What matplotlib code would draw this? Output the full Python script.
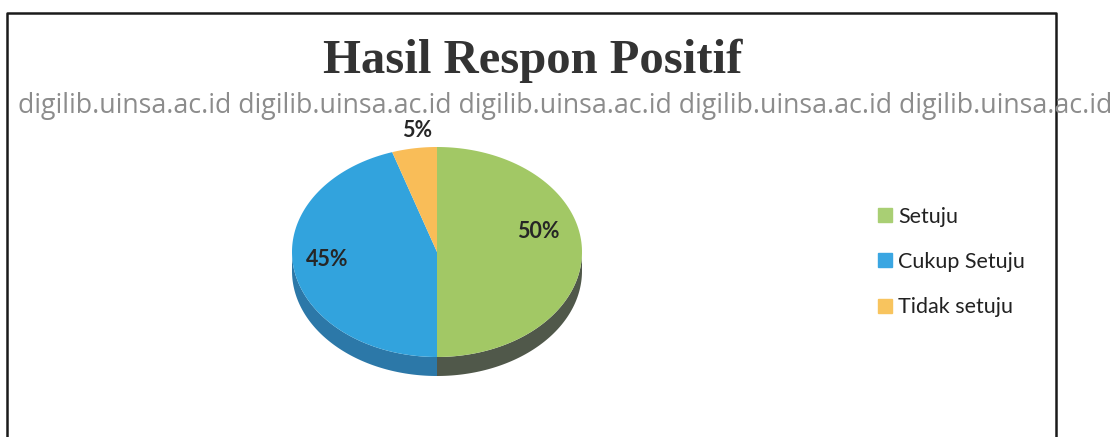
import numpy as np
import matplotlib
matplotlib.use("Agg")
import matplotlib.pyplot as plt
from matplotlib.patches import Polygon
from matplotlib.lines import Line2D

# data
categories = ['Setuju', 'Cukup Setuju', 'Tidak setuju']
values = [50, 45, 5]
pct_labels = ['50%', '45%', '5%']
title = 'Hasil Respon Positif'
watermark = 'digilib.uinsa.ac.id'

# style
top_colors = ['#a2c865', '#32a3dd', '#f9bd58']
side_colors = ['#50584a', '#2c78a8', '#c9923a']
legend_colors = ['#a9cf74', '#3aa6e2', '#f8c45e']
label_r = [0.70, 0.77, 1.20]
label_dx = [0, 0, 7]
label_dy = [-21, -5, 3]

W, H = 1115, 437
fig = plt.figure(figsize=(W / 100, H / 100), dpi=100)
ax = fig.add_axes([0, 0, 1, 1])
ax.set_xlim(0, W)
ax.set_ylim(H, 0)
ax.axis('off')

# pie geometry in pixels (y down), angles clockwise from 12 o'clock
cx, cy, a, b, depth = 437, 252, 145, 105, 19


def pt(theta, dy=0.0):
    t = np.radians(theta)
    return cx + a * np.sin(t), cy - b * np.cos(t) + dy


fracs = np.array(values, dtype=float) / sum(values)
edges = np.concatenate([[0], np.cumsum(fracs) * 360])

# side (only the front half, 90..270 deg, is visible)
for i in range(len(values)):
    t0, t1 = max(edges[i], 90), min(edges[i + 1], 270)
    if t1 <= t0:
        continue
    th = np.linspace(t0, t1, 80)
    xs, ys = pt(th)
    xb, yb = pt(th[::-1], depth)
    ax.add_patch(Polygon(np.column_stack([np.r_[xs, xb], np.r_[ys, yb]]),
                         closed=True, fc=side_colors[i], ec='none', zorder=2))

# top faces
for i in range(len(values)):
    th = np.linspace(edges[i], edges[i + 1], 120)
    xs, ys = pt(th)
    poly = np.column_stack([np.r_[cx, xs], np.r_[cy, ys]])
    ax.add_patch(Polygon(poly, closed=True, fc=top_colors[i], ec='none', zorder=3))

# percent labels
for i, lab in enumerate(pct_labels):
    mid = np.radians((edges[i] + edges[i + 1]) / 2)
    x = cx + label_r[i] * a * np.sin(mid) + label_dx[i]
    y = cy - label_r[i] * b * np.cos(mid) + label_dy[i]
    ax.text(x, y, lab, ha='center', va='center', fontsize=15.5, fontweight='bold',
            family='Lato', color='#262626', zorder=5)

# title
ax.text(533, 61, title, ha='center', va='center', fontsize=35, fontweight='bold',
        family='Liberation Serif', color='#333333', zorder=5)

# watermark line
ax.text(18, 106, ' '.join([watermark] * 5), ha='left', va='center', fontsize=19.3,
        family='Open Sans', color='#8c8c8c', zorder=6)

# frame of the scanned box
ax.plot([7, 7, 1056, 1056], [H + 5, 13, 13, H + 5], color='#1a1a1a', lw=1.8,
        zorder=4, clip_on=False)

# legend
handles = [Line2D([], [], ls='none', marker='s', ms=9.5, mfc=c, mec=c)
           for c in legend_colors]
leg = ax.legend(handles, categories, loc='center left',
                bbox_to_anchor=(879 / W, 1 - 262 / H), frameon=False,
                borderpad=0, borderaxespad=0,
                labelspacing=1.17, handlelength=0.6,
                handletextpad=0.3, prop={'family': 'Lato', 'size': 15.5})
for t in leg.get_texts():
    t.set_color('#222222')

fig.savefig('out.png', dpi=100)
